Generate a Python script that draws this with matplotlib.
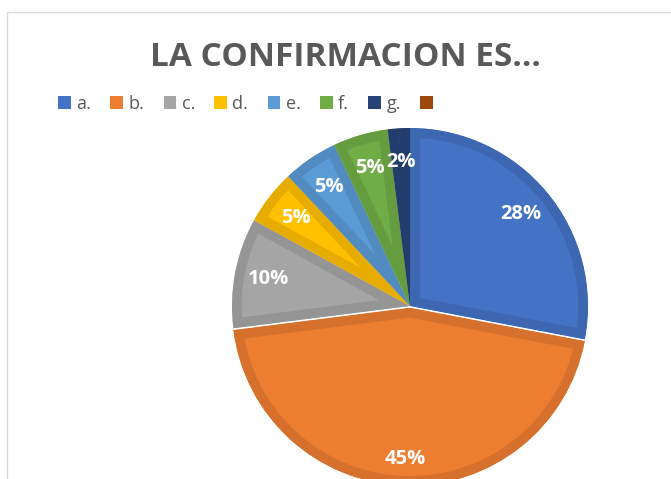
import matplotlib
matplotlib.use("Agg")
import matplotlib.pyplot as plt
import matplotlib.colors as mcolors
from matplotlib.patches import Rectangle, Wedge
import numpy as np

categories = ["a.", "b.", "c.", "d.", "e.", "f.", "g.", ""]
values = [28, 45, 10, 5, 5, 5, 2, 0]
colors = ["#4472C4", "#ED7D31", "#A5A5A5", "#FFC000", "#5B9BD5", "#70AD47", "#264478", "#9E480E"]
explode = [0, 0.01, 0, 0, 0, 0, 0, 0]
title = "LA CONFIRMACION ES…"

plt.rcParams['font.family'] = ['Open Sans', 'DejaVu Sans']

W, H = 671, 479
fig = plt.figure(figsize=(W / 100, H / 100), dpi=100)

# chart border
fig.patches.append(Rectangle((7 / W, -0.1), 1.2, (H - 12) / H + 0.1, transform=fig.transFigure,
                             fill=False, edgecolor="#D9D9D9", linewidth=1.0))

cx, cy, r = 410, H - 306, 178
ax = fig.add_axes([(cx - r) / W, (cy - r) / H, 2 * r / W, 2 * r / H])


def fmt(p):
    return f"{p:.0f}%" if p > 0.5 else ""


wedges, texts, autotexts = ax.pie(values, colors=colors, startangle=90, counterclock=False,
                                  explode=explode, autopct=fmt, pctdistance=0.81,
                                  radius=1.0, textprops=dict(color="white", fontsize=14.5,
                                                             fontweight="bold"))
ax.set_xlim(-1, 1)
ax.set_ylim(-1, 1)
ax.set_aspect("equal")
ax.axis("off")

for w, c in zip(wedges, colors):
    dark = np.array(mcolors.to_rgb(c)) * 0.9
    w.set_edgecolor(dark)
    w.set_linewidth(14)
    clip = Wedge(w.center, w.r, w.theta1, w.theta2, transform=ax.transData)
    w.set_clip_path(clip)
    w.set_clip_on(True)

# orange label placed further out, as in the reference
w = wedges[1]
mid = np.deg2rad((w.theta1 + w.theta2) / 2)
cxw, cyw = w.center
autotexts[1].set_position((cxw + 0.85 * np.cos(mid), cyw + 0.85 * np.sin(mid)))

fig.text(345 / W, 1 - 58 / H, title, ha="center", va="center", fontsize=24,
         fontweight="bold", color="#595959")

leg = fig.legend(wedges, categories, ncol=8, loc="center left",
                 bbox_to_anchor=(58 / W, 1 - 104 / H), frameon=False,
                 fontsize=13, handlelength=0.7, handleheight=0.7,
                 handletextpad=0.3, columnspacing=1.07, labelcolor="#595959",
                 borderaxespad=0, borderpad=0)
for h in leg.legend_handles:
    h.set_linewidth(0)
    h.set_clip_path(None)

fig.savefig("out.png", dpi=100)
